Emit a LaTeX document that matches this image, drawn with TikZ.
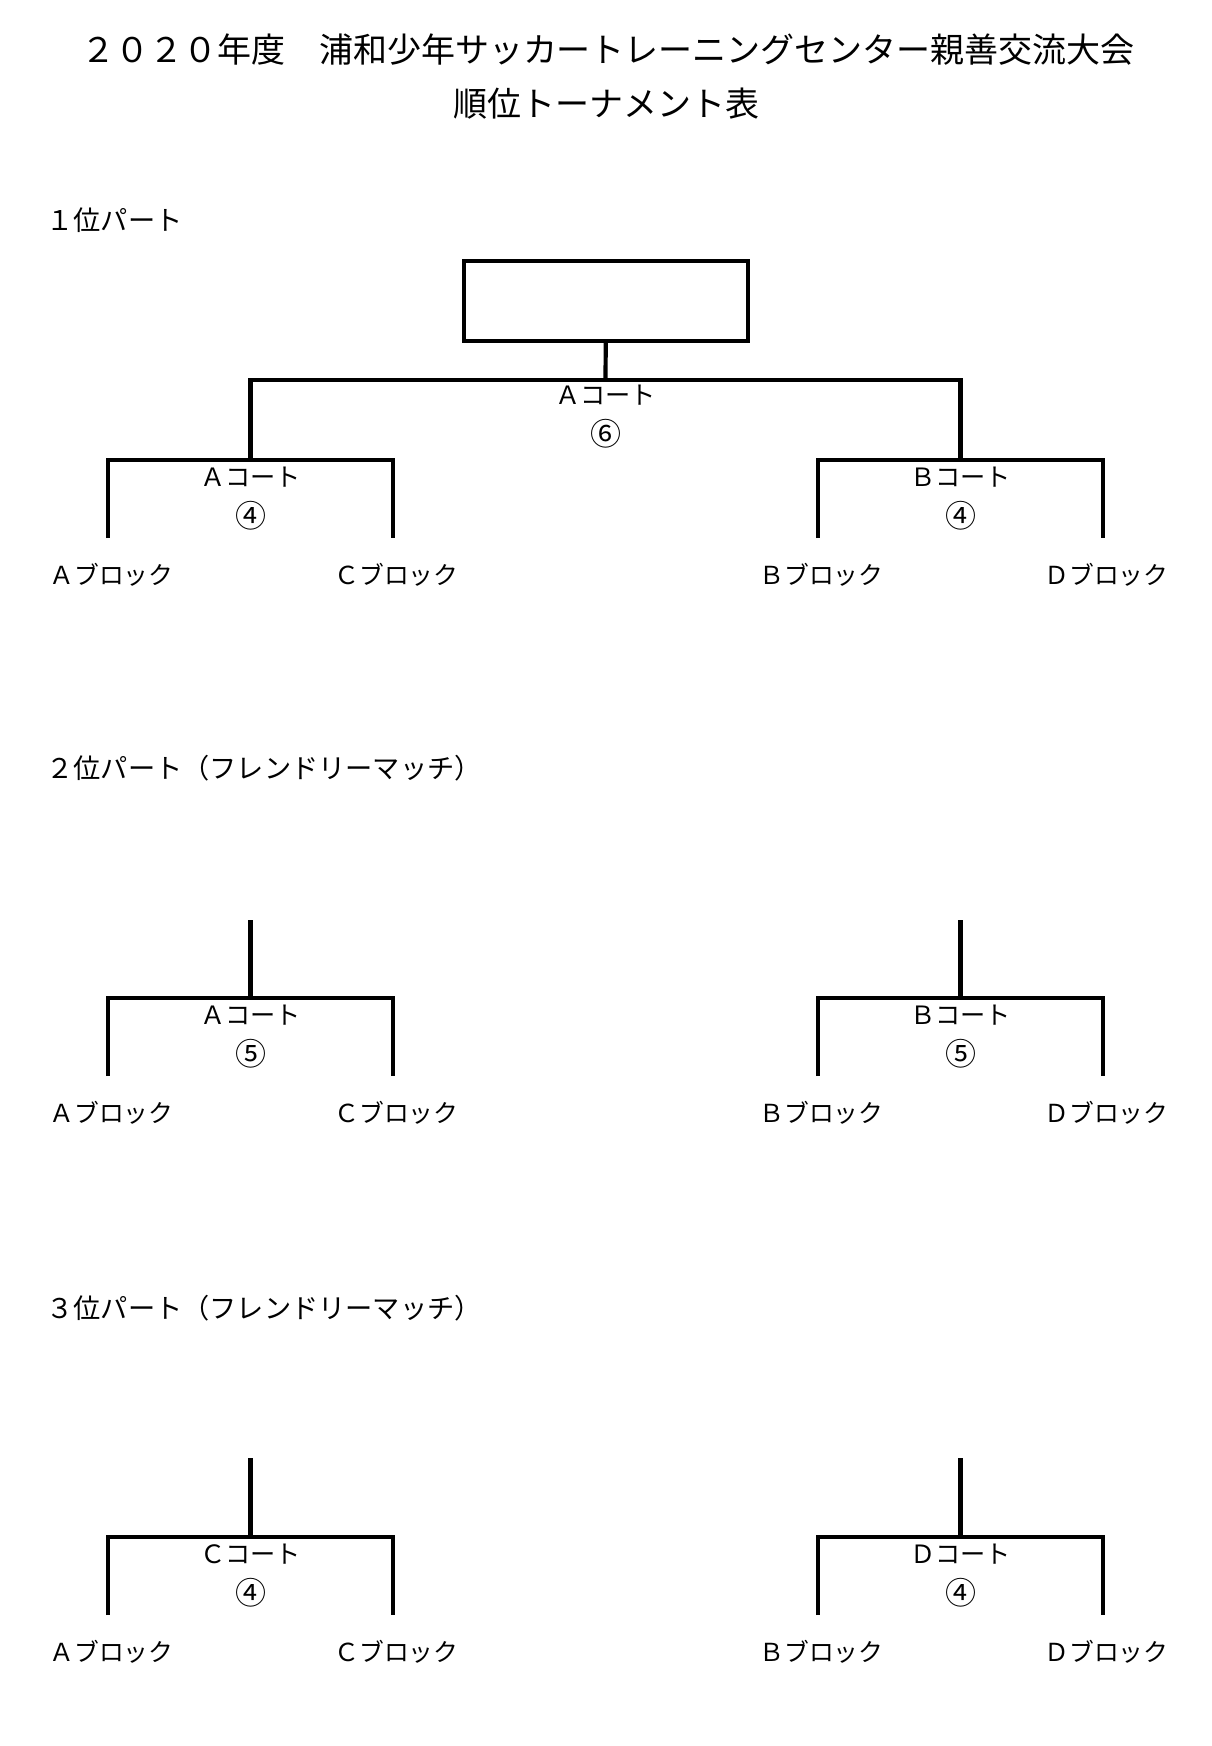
\documentclass[tikz,border=0pt]{standalone}
\usepackage{fontspec}
\setmainfont{Noto Sans CJK JP}
\usetikzlibrary{positioning}

\tikzset{
	bline/.style={line width=2.1pt, line join=miter},
	titletext/.style={font=\fontsize{17}{20}\selectfont, inner sep=0pt},
	parthead/.style={anchor=west, inner sep=0pt, font=\fontsize{13.6}{16}\selectfont},
	court/.style={inner sep=0pt, font=\fontsize{12.6}{15}\selectfont},
	matchno/.style={inner sep=0pt, font=\fontsize{15.5}{18}\selectfont},
	blocklabel/.style={inner sep=0pt, font=\fontsize{12.4}{15}\selectfont},
	finalbox/.style={draw, line width=2.1pt, minimum width=142pt, minimum height=40pt, inner sep=0pt}
}

% #1 name, (#2,#3) top centre, #4 court, #5 match no., #6 left block, #7 right block
\def\pairbracket#1(#2,#3)#4#5#6#7{%
	\coordinate (#1) at (#2,#3);
	\coordinate (#1tl) at (#2-142.5,#3);
	\coordinate (#1tr) at (#2+142.5,#3);
	\coordinate (#1bl) at (#2-142.5,#3+78);
	\coordinate (#1br) at (#2+142.5,#3+78);
	\draw[bline] (#1bl) -- (#1tl) -- (#1tr) -- (#1br);
	\node[court] (#1court) at (#2,#3+17) {#4};
	\node[matchno] (#1no) at (#2,#3+56) {#5};
	\node[blocklabel] (#1left) at (#2-139,#3+115) {#6};
	\node[blocklabel] (#1right) at (#2+146,#3+115) {#7};
}

\begin{document}
\begin{tikzpicture}[x=0.5pt, y=-0.5pt]
	%%%%% START %%%%%
	\useasboundingbox (0,0) rectangle (1211,1746);
	
	\node[titletext] (title) at (608,50) {２０２０年度　浦和少年サッカートレーニングセンター親善交流大会};
	\node[titletext] (subtitle) at (606,104) {順位トーナメント表};
	
	% 1st place part
	\node[parthead] (part1) at (46,220) {１位パート};
	\node[finalbox] (final) at (606,301) {};
	\coordinate (top) at (605.5,380);
	\pairbracket{ac}(250.5,460){Ａコート}{④}{Ａブロック}{Ｃブロック}
	\pairbracket{bd}(960.5,460){Ｂコート}{④}{Ｂブロック}{Ｄブロック}
	\draw[bline] (final) -- (top);
	\draw[bline] (ac) -- (ac |- top) -- (bd |- top) -- (bd);
	\node[court] (topcourt) at (605.5,395) {Ａコート};
	\node[matchno] (topno) at (605.5,434) {⑥};
	
	% 2nd place part
	\node[parthead] (part2) at (46,768) {２位パート（フレンドリーマッチ）};
	\coordinate (stub2l) at (250.5,920);
	\coordinate (stub2r) at (960.5,920);
	\pairbracket{ac2}(250.5,998){Ａコート}{⑤}{Ａブロック}{Ｃブロック}
	\pairbracket{bd2}(960.5,998){Ｂコート}{⑤}{Ｂブロック}{Ｄブロック}
	\draw[bline] (stub2l) -- (ac2);
	\draw[bline] (stub2r) -- (bd2);
	
	% 3rd place part
	\node[parthead] (part3) at (46,1308) {３位パート（フレンドリーマッチ）};
	\coordinate (stub3l) at (250.5,1458);
	\coordinate (stub3r) at (960.5,1458);
	\pairbracket{ac3}(250.5,1537){Ｃコート}{④}{Ａブロック}{Ｃブロック}
	\pairbracket{bd3}(960.5,1537){Ｄコート}{④}{Ｂブロック}{Ｄブロック}
	\draw[bline] (stub3l) -- (ac3);
	\draw[bline] (stub3r) -- (bd3);
	
	%%%%% END %%%%%
\end{tikzpicture}
\end{document}
